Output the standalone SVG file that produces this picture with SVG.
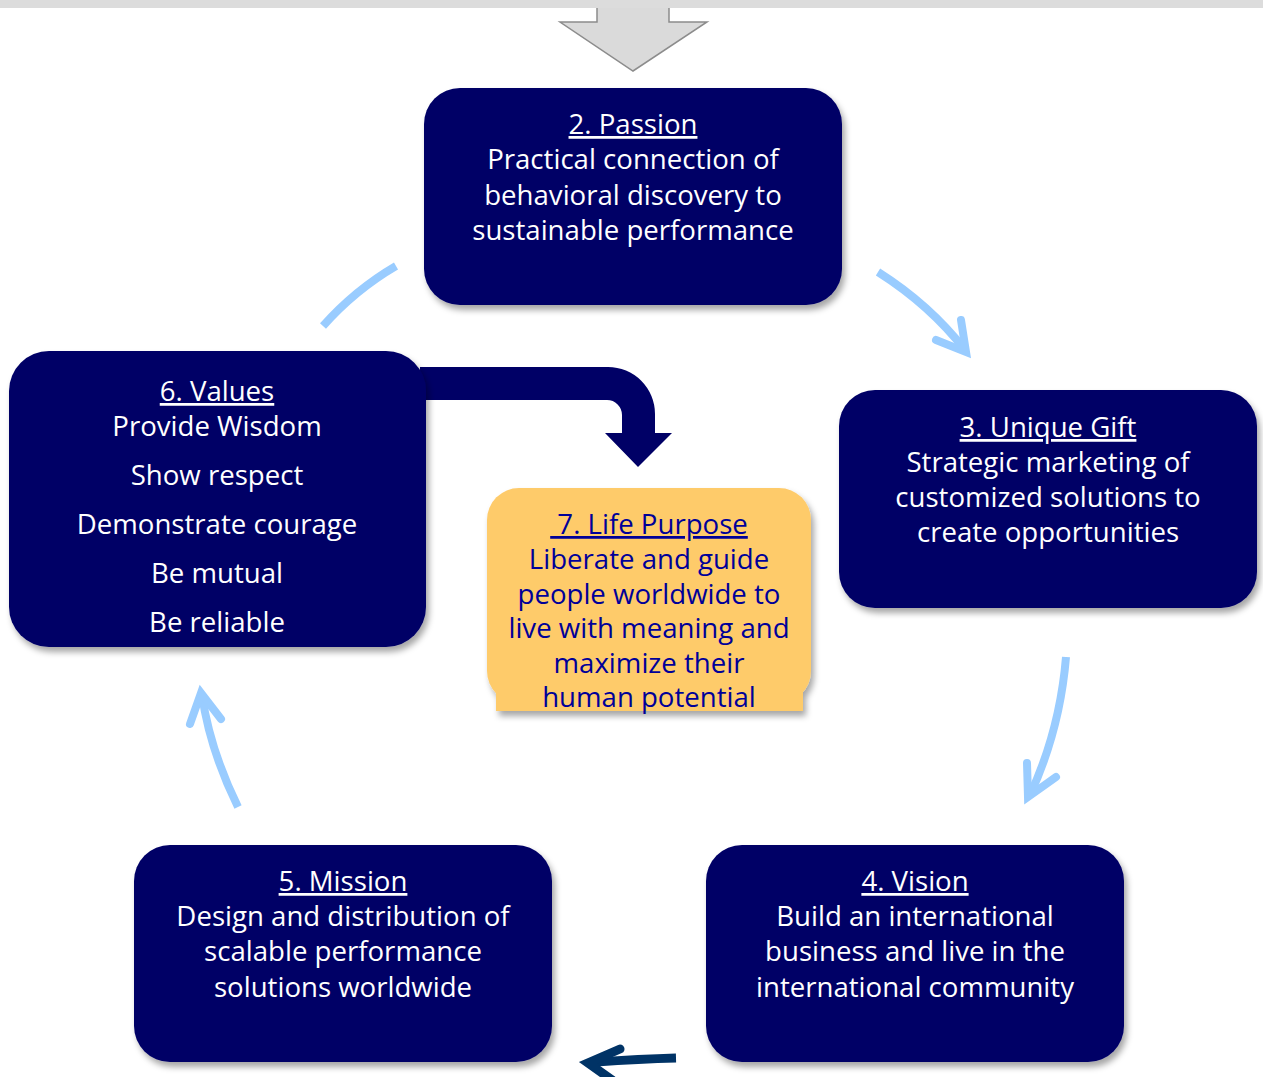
<svg xmlns="http://www.w3.org/2000/svg" width="1263" height="1077" viewBox="0 0 1263 1077">
<defs>
<filter id="sh" x="-10%" y="-10%" width="125%" height="130%">
<feDropShadow dx="3" dy="5" stdDeviation="3" flood-color="#000" flood-opacity="0.35"/>
</filter>
</defs>
<style>
.box{fill:#000066;filter:url(#sh)}
.t{font-family:"Open Sans","DejaVu Sans",sans-serif;font-size:27.6px;fill:#fff;text-anchor:middle}
.y{fill:#000099}
.u{text-decoration:underline}
.lb{fill:none;stroke:#99ccff;stroke-width:8}
.hd{fill:none;stroke:#99ccff;stroke-width:8;stroke-linecap:round;stroke-linejoin:miter}
</style>
<rect x="0" y="0" width="1263" height="1077" fill="#fff"/>
<path d="M597 0 V22 H560 L633 71 L707 22 H669 V0" fill="#dadada" stroke="#8c8c8c" stroke-width="1.5"/>
<rect x="0" y="0" width="1263" height="8" fill="#dcdcdc"/>
<g id="connectors">
<path class="lb" d="M323 326 Q355 290 396 266"/>
<path class="lb" d="M878 272 Q930 305 965 350"/>
<path class="hd" d="M936 340 L966 352 L961 320"/>
<path class="lb" d="M1066 657 Q1060 730 1030 795"/>
<path class="hd" d="M1027 763 L1028 797 L1056 777"/>
<path class="lb" d="M238 807 Q210 750 202 695"/>
<path class="hd" d="M190 724 L201 693 L221 719"/>
<path d="M676 1058 Q640 1059 596 1062" fill="none" stroke="#003366" stroke-width="9"/>
<path d="M620 1049 L588 1063 L612 1080" fill="none" stroke="#003366" stroke-width="9" stroke-linecap="round"/>
<path d="M420 367 H608 A47 47 0 0 1 655 414 V433 H672 L638 467 L605 433 H622 V415 A15 15 0 0 0 607 400 H420 Z" fill="#000066"/>
</g>
<g id="passion">
<rect class="box" x="424" y="88" width="418" height="217" rx="36"/>
<text class="t" x="633" y="134"><tspan class="u">2. Passion</tspan><tspan x="633" dy="35">Practical connection of</tspan><tspan x="633" dy="36">behavioral discovery to</tspan><tspan x="633" dy="35">sustainable performance</tspan></text>
</g>
<g id="gift">
<rect class="box" x="839" y="390" width="418" height="218" rx="36"/>
<text class="t" x="1048" y="437"><tspan class="u">3. Unique Gift</tspan><tspan x="1048" dy="35">Strategic marketing of</tspan><tspan x="1048" dy="35">customized solutions to</tspan><tspan x="1048" dy="35">create opportunities</tspan></text>
</g>
<g id="vision">
<rect class="box" x="706" y="845" width="418" height="217" rx="36"/>
<text class="t" x="915" y="891"><tspan class="u">4. Vision</tspan><tspan x="915" dy="35">Build an international</tspan><tspan x="915" dy="35">business and live in the</tspan><tspan x="915" dy="36">international community</tspan></text>
</g>
<g id="mission">
<rect class="box" x="134" y="845" width="418" height="217" rx="36"/>
<text class="t" x="343" y="891"><tspan class="u">5. Mission</tspan><tspan x="343" dy="35">Design and distribution of</tspan><tspan x="343" dy="35">scalable performance</tspan><tspan x="343" dy="36">solutions worldwide</tspan></text>
</g>
<g id="values">
<rect class="box" x="9" y="351" width="417" height="296" rx="40"/>
<text class="t" x="217" y="401"><tspan class="u">6. Values</tspan><tspan x="217" dy="35">Provide Wisdom</tspan><tspan x="217" dy="49">Show respect</tspan><tspan x="217" dy="49">Demonstrate courage</tspan><tspan x="217" dy="49">Be mutual</tspan><tspan x="217" dy="49">Be reliable</tspan></text>
</g>
<g id="purpose">
<g filter="url(#sh)">
<rect x="487" y="488" width="324" height="215" rx="32" fill="#fecb6b"/>
<rect x="496" y="670" width="307" height="41" fill="#fecb6b"/>
</g>
<text class="t y" x="649" y="534"><tspan class="u" xml:space="preserve"> 7. Life Purpose</tspan><tspan x="649" dy="35">Liberate and guide</tspan><tspan x="649" dy="35">people worldwide to</tspan><tspan x="649" dy="34">live with meaning and</tspan><tspan x="649" dy="35">maximize their</tspan><tspan x="649" dy="34">human potential</tspan></text>
</g>
</svg>
